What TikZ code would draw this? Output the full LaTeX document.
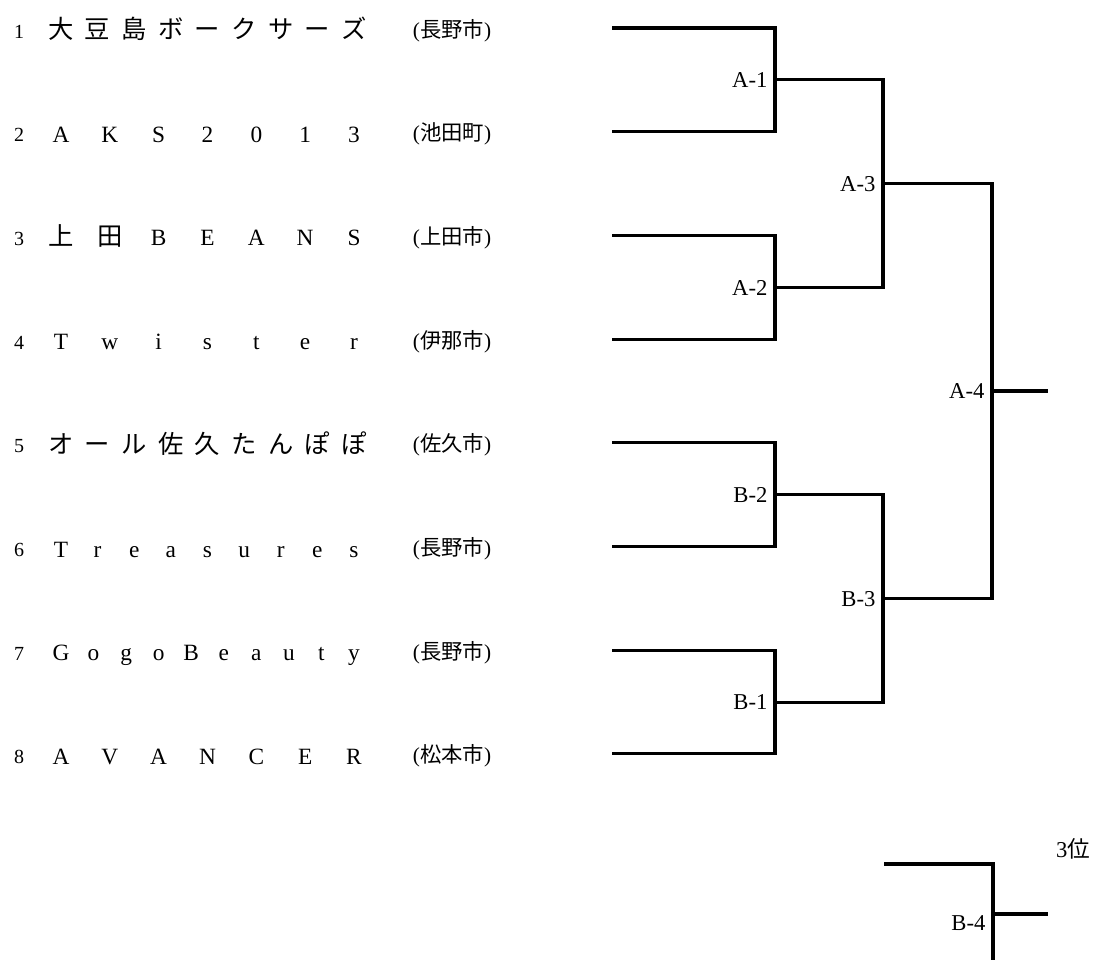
\documentclass[tikz,border=0pt]{standalone}
\usepackage{fontspec}
\setmainfont{Liberation Serif}
\newfontfamily\cjk{Noto Sans CJK JP}
\newcommand{\jp}{\cjk\fontsize{19}{19}\selectfont}
\tikzset{
    seed/.style = {anchor=base, inner sep=0pt, font=\fontsize{15}{15}\selectfont},
    team_char/.style = {anchor=base, inner sep=0pt, font=\fontsize{17.5}{17.5}\selectfont},
    city/.style = {anchor=base, inner sep=0pt, font=\fontsize{16}{16}\selectfont},
    match_label/.style = {anchor=base east, inner sep=0pt, xshift=-5.5pt, yshift=-5.8pt,
                          font=\fontsize{17}{17}\selectfont},
    bracket/.style = {line width=2.3pt}
}
% one entry of the draw: seed number, spread-out name, town, line end
\newcommand{\teamrow}[5]{%
    \node [seed] (seed#1) at (19, {38+(#1-1)*103.7}) {#1};
    \foreach \tc [count=\k] in {#4}
        \node [team_char] (t#1-\k) at ({61+(\k-1)*293/(#2-1)}, {38.5+(#1-1)*103.7}) {#3\tc};
    \node [city] (city#1) at (452, {37+(#1-1)*103.7}) {({\cjk #5})};
    \coordinate (e#1) at (612, {28+(#1-1)*103.7});
}

\begin{document}
\begin{tikzpicture}[x=0.75pt, y=-0.75pt]
    \useasboundingbox (0,0) rectangle (1095,960);

    \teamrow{1}{9}{\jp}{大,豆,島,ボ,ー,ク,サ,ー,ズ}{長野市}
    \teamrow{2}{7}{}{A,K,S,2,0,1,3}{池田町}
    \teamrow{3}{7}{}{\jp 上,\jp 田,B,E,A,N,S}{上田市}
    \teamrow{4}{7}{}{T,w,i,s,t,e,r}{伊那市}
    \teamrow{5}{9}{\jp}{オ,ー,ル,佐,久,た,ん,ぽ,ぽ}{佐久市}
    \teamrow{6}{9}{}{T,r,e,a,s,u,r,e,s}{長野市}
    \teamrow{7}{10}{}{G,o,g,o,B,e,a,u,t,y}{長野市}
    \teamrow{8}{7}{}{A,V,A,N,C,E,R}{松本市}

    % match points
    \coordinate (A1) at (775, 79.9);
    \coordinate (A2) at (775, 287.3);
    \coordinate (B2) at (775, 494.7);
    \coordinate (B1) at (775, 702.1);
    \coordinate (A3) at (883, 183.6);
    \coordinate (B3) at (883, 598.4);
    \coordinate (A4) at (992, 391);
    \coordinate (win) at (1048, 391);
    \coordinate (B4in) at (884, 864);
    \coordinate (B4) at (993, 914);
    \coordinate (B4out) at (1048, 914);
    \coordinate (B4low) at (993, 960);

    \draw [bracket] (e1) -| (A1) |- (e2);
    \draw [bracket] (e3) -| (A2) |- (e4);
    \draw [bracket] (e5) -| (B2) |- (e6);
    \draw [bracket] (e7) -| (B1) |- (e8);
    \draw [bracket] (A1) -| (A3) |- (A2);
    \draw [bracket] (B2) -| (B3) |- (B1);
    \draw [bracket] (A3) -| (A4) |- (B3);
    \draw [bracket] (A4) -- (win);
    \draw [bracket] (B4in) -| (B4low);
    \draw [bracket] (B4) -- (B4out);

    \node [match_label] (lA1) at (A1) {A-1};
    \node [match_label] (lA2) at (A2) {A-2};
    \node [match_label] (lB2) at (B2) {B-2};
    \node [match_label] (lB1) at (B1) {B-1};
    \node [match_label] (lA3) at (A3) {A-3};
    \node [match_label] (lB3) at (B3) {B-3};
    \node [match_label] (lA4) at (A4) {A-4};
    \node [match_label, yshift=-6.5pt] (lB4) at (B4) {B-4};
    \node [anchor=base, inner sep=0pt, font=\fontsize{17}{17}\selectfont] (third) at (1073, 857) {3{\cjk 位}};
\end{tikzpicture}
\end{document}
